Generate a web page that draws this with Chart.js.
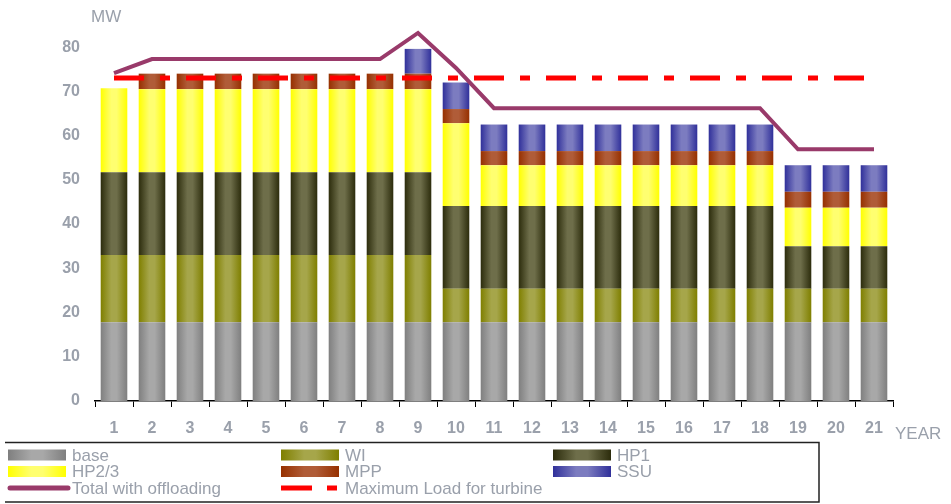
<!DOCTYPE html>
<html>
<head>
<meta charset="utf-8">
<script src="https://cdn.jsdelivr.net/npm/chart.js@4"></script>
<style>
  html, body { margin: 0; padding: 0; background: #fff; }
  #wrap { width: 951px; height: 504px; position: relative; }
</style>
</head>
<body>
<div id="wrap"><canvas id="grafico"></canvas></div>
<script>
const years = ['1','2','3','4','5','6','7','8','9','10','11','12','13','14','15','16','17','18','19','20','21'];

const base  = [17.8,17.8,17.8,17.8,17.8,17.8,17.8,17.8,17.8,17.8,17.8,17.8,17.8,17.8,17.8,17.8,17.8,17.8,17.8,17.8,17.8];
const wi    = [15.2,15.2,15.2,15.2,15.2,15.2,15.2,15.2,15.2,7.6,7.6,7.6,7.6,7.6,7.6,7.6,7.6,7.6,7.6,7.6,7.6];
const hp1   = [18.7,18.7,18.7,18.7,18.7,18.7,18.7,18.7,18.7,18.7,18.7,18.7,18.7,18.7,18.7,18.7,18.7,18.7,9.6,9.6,9.6];
const hp23  = [19.0,18.8,18.8,18.8,18.8,18.8,18.8,18.8,18.8,18.7,9.2,9.2,9.2,9.2,9.2,9.2,9.2,9.2,8.7,8.7,8.7];
const mpp   = [0,3.5,3.5,3.5,3.5,3.5,3.5,3.5,3.5,3.2,3.2,3.2,3.2,3.2,3.2,3.2,3.2,3.2,3.6,3.6,3.6];
const ssu   = [0,0,0,0,0,0,0,0,5.6,6.0,6.0,6.0,6.0,6.0,6.0,6.0,6.0,6.0,6.0,6.0,6.0];
const total = [74.1,77.3,77.3,77.3,77.3,77.3,77.3,77.3,83.2,75.3,66.2,66.2,66.2,66.2,66.2,66.2,66.2,66.2,56.9,56.9,56.9];
const maxLoad = [73,73,73,73,73,73,73,73,73,73,73,73,73,73,73,73,73,73,73,73,73];

const yTicks = [0,10,20,30,40,50,60,70,80];

const BAR_PCT = 0.7;
const textColor = '#9aa0ab';

// colores borde / centro para el degradado horizontal de cada serie
const colores = {
    base: ['#7f7f7f', '#a8a8a8'],
    wi:   ['#7f7f00', '#a6a64a'],
    hp1:  ['#2c2c0c', '#6e6e4a'],
    hp23: ['#ffff00', '#ffff70'],
    mpp:  ['#963000', '#b05c38'],
    ssu:  ['#30309a', '#7c7cc0']
};

function degradado(ctx, x0, x1, par) {
    const g = ctx.createLinearGradient(x0, 0, x1, 0);
    g.addColorStop(0, par[0]);
    g.addColorStop(0.4, par[1]);
    g.addColorStop(0.6, par[1]);
    g.addColorStop(1, par[0]);
    return g;
}

function rellenoBarra(par) {
    return function(c) {
        const chart = c.chart;
        const x = chart.scales.x;
        if (c.type !== 'data' || !x || !x.width) return par[1];
        const cx = x.getPixelForValue(c.dataIndex);
        const w = x.width / years.length * BAR_PCT;
        return degradado(chart.ctx, cx - w / 2, cx + w / 2, par);
    };
}

function barra(label, data, par) {
    return {
        type: 'bar',
        label: label,
        data: data,
        backgroundColor: rellenoBarra(par),
        borderWidth: 0,
        stack: 'gen',
        order: 1,
        barPercentage: BAR_PCT,
        categoryPercentage: 1
    };
}

const leyendaPlugin = {
    id: 'leyenda',
    afterDraw(chart) {
        const ctx = chart.ctx;
        ctx.save();

        // títulos de ejes
        ctx.fillStyle = textColor;
        ctx.font = '17px "Liberation Sans", Arial, sans-serif';
        ctx.textBaseline = 'middle';
        ctx.textAlign = 'left';
        ctx.fillText('MW', 91, 17);
        ctx.fillText('YEAR', 895, 434);

        // marco de la leyenda
        ctx.strokeStyle = '#222';
        ctx.lineWidth = 1.5;
        ctx.beginPath();
        ctx.moveTo(5, 442.5);
        ctx.lineTo(819, 442.5);
        ctx.lineTo(819, 502);
        ctx.lineTo(5, 502);
        ctx.stroke();

        const cols = [8, 281, 553];
        const rows = [455, 471.5, 488];
        const sw = 58;
        const items = chart.data.datasets;
        const pares = [colores.base, colores.wi, colores.hp1, colores.hp23, colores.mpp, colores.ssu];

        ctx.font = '17px "Liberation Sans", Arial, sans-serif';
        items.forEach((ds, i) => {
            const x = cols[i % 3];
            const y = rows[Math.floor(i / 3)];
            if (ds.type === 'bar') {
                ctx.fillStyle = degradado(ctx, x, x + sw, pares[i]);
                ctx.fillRect(x, y - 5.5, sw, 11);
            } else if (i === 6) {
                ctx.strokeStyle = ds.borderColor;
                ctx.lineWidth = 5;
                ctx.lineCap = 'round';
                ctx.beginPath();
                ctx.moveTo(x + 2, y);
                ctx.lineTo(x + sw + 2, y);
                ctx.stroke();
                ctx.lineCap = 'butt';
            } else {
                ctx.fillStyle = ds.borderColor;
                ctx.fillRect(x, y - 2.5, 31, 5);
                ctx.fillRect(x + 46, y - 2.5, 10, 5);
            }
            ctx.fillStyle = textColor;
            ctx.fillText(ds.label, x + 64, y + 1);
        });
        ctx.restore();
    }
};

document.addEventListener('DOMContentLoaded', function() {
    const ctx = document.getElementById('grafico').getContext('2d');

    new Chart(ctx, {
        data: {
            labels: years,
            datasets: [
                barra('base', base, colores.base),
                barra('WI', wi, colores.wi),
                barra('HP1', hp1, colores.hp1),
                barra('HP2/3', hp23, colores.hp23),
                barra('MPP', mpp, colores.mpp),
                barra('SSU', ssu, colores.ssu),
                {
                    type: 'line',
                    label: 'Total with offloading',
                    data: total,
                    borderColor: '#993a6a',
                    borderWidth: 4,
                    pointRadius: 0,
                    tension: 0,
                    stack: 'total',
                    order: 0
                },
                {
                    type: 'line',
                    label: 'Maximum Load for turbine',
                    data: maxLoad,
                    borderColor: '#ff0000',
                    borderWidth: 5,
                    borderDash: [30, 16, 10, 16],
                    pointRadius: 0,
                    tension: 0,
                    stack: 'max',
                    order: 0
                }
            ]
        },
        options: {
            responsive: true,
            maintainAspectRatio: false,
            animation: false,
            layout: { padding: { left: 0, right: 58, top: 25, bottom: 0 } },
            scales: {
                x: {
                    stacked: true,
                    afterFit: s => { s.height = 103; },
                    grid: {
                        offset: true,
                        drawOnChartArea: false,
                        drawTicks: true,
                        tickLength: 6,
                        color: '#000'
                    },
                    border: { display: true, color: '#000', width: 1.5 },
                    ticks: {
                        color: textColor,
                        padding: 12,
                        maxRotation: 0,
                        font: { family: '"Liberation Sans", Arial, sans-serif', size: 16, weight: 'bold' }
                    }
                },
                y: {
                    stacked: true,
                    min: 0,
                    max: 85,
                    afterFit: s => { s.width = 95; },
                    afterBuildTicks: s => { s.ticks = yTicks.map(v => ({ value: v })); },
                    grid: { display: false, drawTicks: false },
                    border: { display: false },
                    ticks: {
                        color: textColor,
                        padding: 15,
                        font: { family: '"Liberation Sans", Arial, sans-serif', size: 16, weight: 'bold' }
                    }
                }
            },
            plugins: {
                legend: { display: false },
                tooltip: { enabled: false }
            }
        },
        plugins: [leyendaPlugin]
    });
});
</script>
</body>
</html>
